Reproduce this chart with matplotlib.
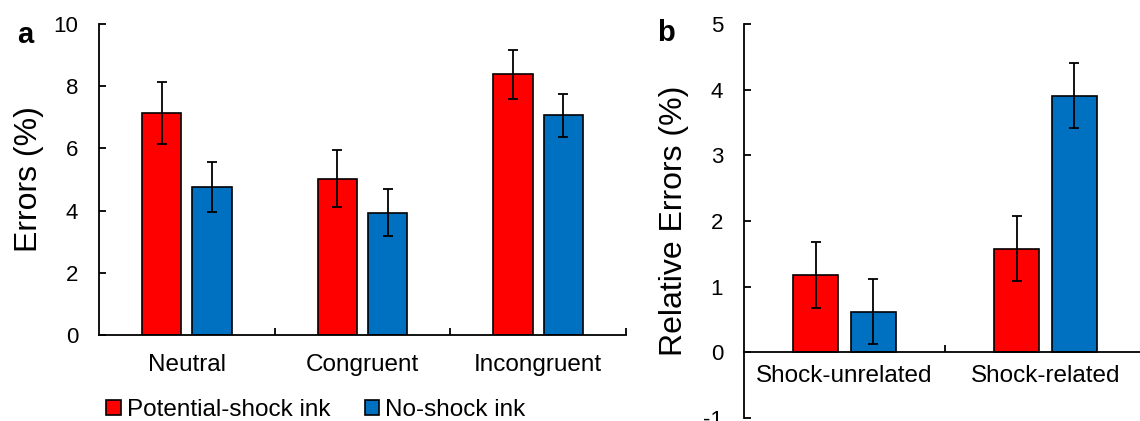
import matplotlib
matplotlib.use('Agg')
import matplotlib.pyplot as plt
from matplotlib.patches import Patch
import numpy as np

plt.rcParams['font.family'] = ['Liberation Sans', 'DejaVu Sans']
plt.rcParams['axes.unicode_minus'] = False

# panel a data
cond_a = ['Neutral', 'Congruent', 'Incongruent']
shock_a = [7.15, 5.03, 8.38]
shock_a_err = [1.0, 0.92, 0.79]
noshock_a = [4.76, 3.93, 7.06]
noshock_a_err = [0.79, 0.76, 0.69]

# panel b data
cond_b = ['Shock-unrelated', 'Shock-related']
shock_b = [1.18, 1.58]
shock_b_err = [0.50, 0.50]
noshock_b = [0.62, 3.91]
noshock_b_err = [0.50, 0.50]

series_names = ['Potential-shock ink', 'No-shock ink']
red = '#FF0000'
blue = '#0070C0'

W, H = 1140, 421
fig = plt.figure(figsize=(W / 100, H / 100), dpi=100)

ax_a = fig.add_axes([99 / W, 1 - 335 / H, 527 / W, 311 / H])
ax_b = fig.add_axes([744 / W, 1 - 418 / H, 402 / W, 394 / H])

bar_w = 0.225
offs = 0.143
err_kw = dict(ecolor='black', elinewidth=1.3, capsize=3.4, capthick=1.3)


def draw_panel(ax, cats, s1, e1, s2, e2, xaxis_at_zero=False):
    x = np.arange(len(cats)) + 0.5
    ax.bar(x - offs, s1, bar_w, yerr=e1, color=red, edgecolor='black',
           linewidth=1.2, error_kw=err_kw, zorder=2)
    ax.bar(x + offs, s2, bar_w, yerr=e2, color=blue, edgecolor='black',
           linewidth=1.2, error_kw=err_kw, zorder=2)
    ax.set_xlim(0, len(cats))
    ax.spines['top'].set_visible(False)
    ax.spines['right'].set_visible(False)
    if xaxis_at_zero:
        # has to happen before the tick styling, it resets the ticks
        ax.spines['bottom'].set_position(('data', 0))
    for s in ['left', 'bottom']:
        ax.spines[s].set_linewidth(1.3)
    # category boundaries carry the tick marks, labels sit at centers
    ax.set_xticks(np.arange(1, len(cats) + 1))
    ax.set_xticklabels([])
    ax.set_xticks(x, minor=True)
    ax.set_xticklabels(cats, minor=True)
    ax.tick_params(axis='x', which='major', direction='in', length=5, width=1.3)
    ax.tick_params(axis='x', which='minor', length=0, labelsize=17.5)
    ax.tick_params(axis='y', direction='in', length=5, width=1.3,
                   labelsize=16, pad=15)


draw_panel(ax_a, cond_a, shock_a, shock_a_err, noshock_a, noshock_a_err)
ax_a.set_ylim(0, 10)
ax_a.set_yticks([0, 2, 4, 6, 8, 10])
ax_a.tick_params(axis='x', which='minor', pad=14)
ax_a.set_ylabel('Errors (%)', fontsize=23, labelpad=7)

draw_panel(ax_b, cond_b, shock_b, shock_b_err, noshock_b, noshock_b_err,
           xaxis_at_zero=True)
ax_b.set_ylim(-1, 5)
ax_b.set_yticks([-1, 0, 1, 2, 3, 4, 5])
ax_b.tick_params(axis='x', which='minor', pad=9)
ax_b.set_ylabel('Relative Errors (%)', fontsize=23, labelpad=10.5)

fig.text(17 / W, 1 - 35 / H, 'a', fontsize=21, fontweight='bold', va='center')
fig.text(657 / W, 1 - 33 / H, 'b', fontsize=21, fontweight='bold', va='center')

handles = [Patch(facecolor=red, edgecolor='black', linewidth=1.2),
           Patch(facecolor=blue, edgecolor='black', linewidth=1.2)]
fig.legend(handles, series_names, loc='center', bbox_to_anchor=(316 / W, 1 - 410 / H),
           ncol=2, frameon=False, fontsize=17.5, handlelength=0.6, handleheight=0.6,
           handletextpad=0.25, columnspacing=1.4, borderpad=0, borderaxespad=0)

fig.savefig('out.png', dpi=100)
